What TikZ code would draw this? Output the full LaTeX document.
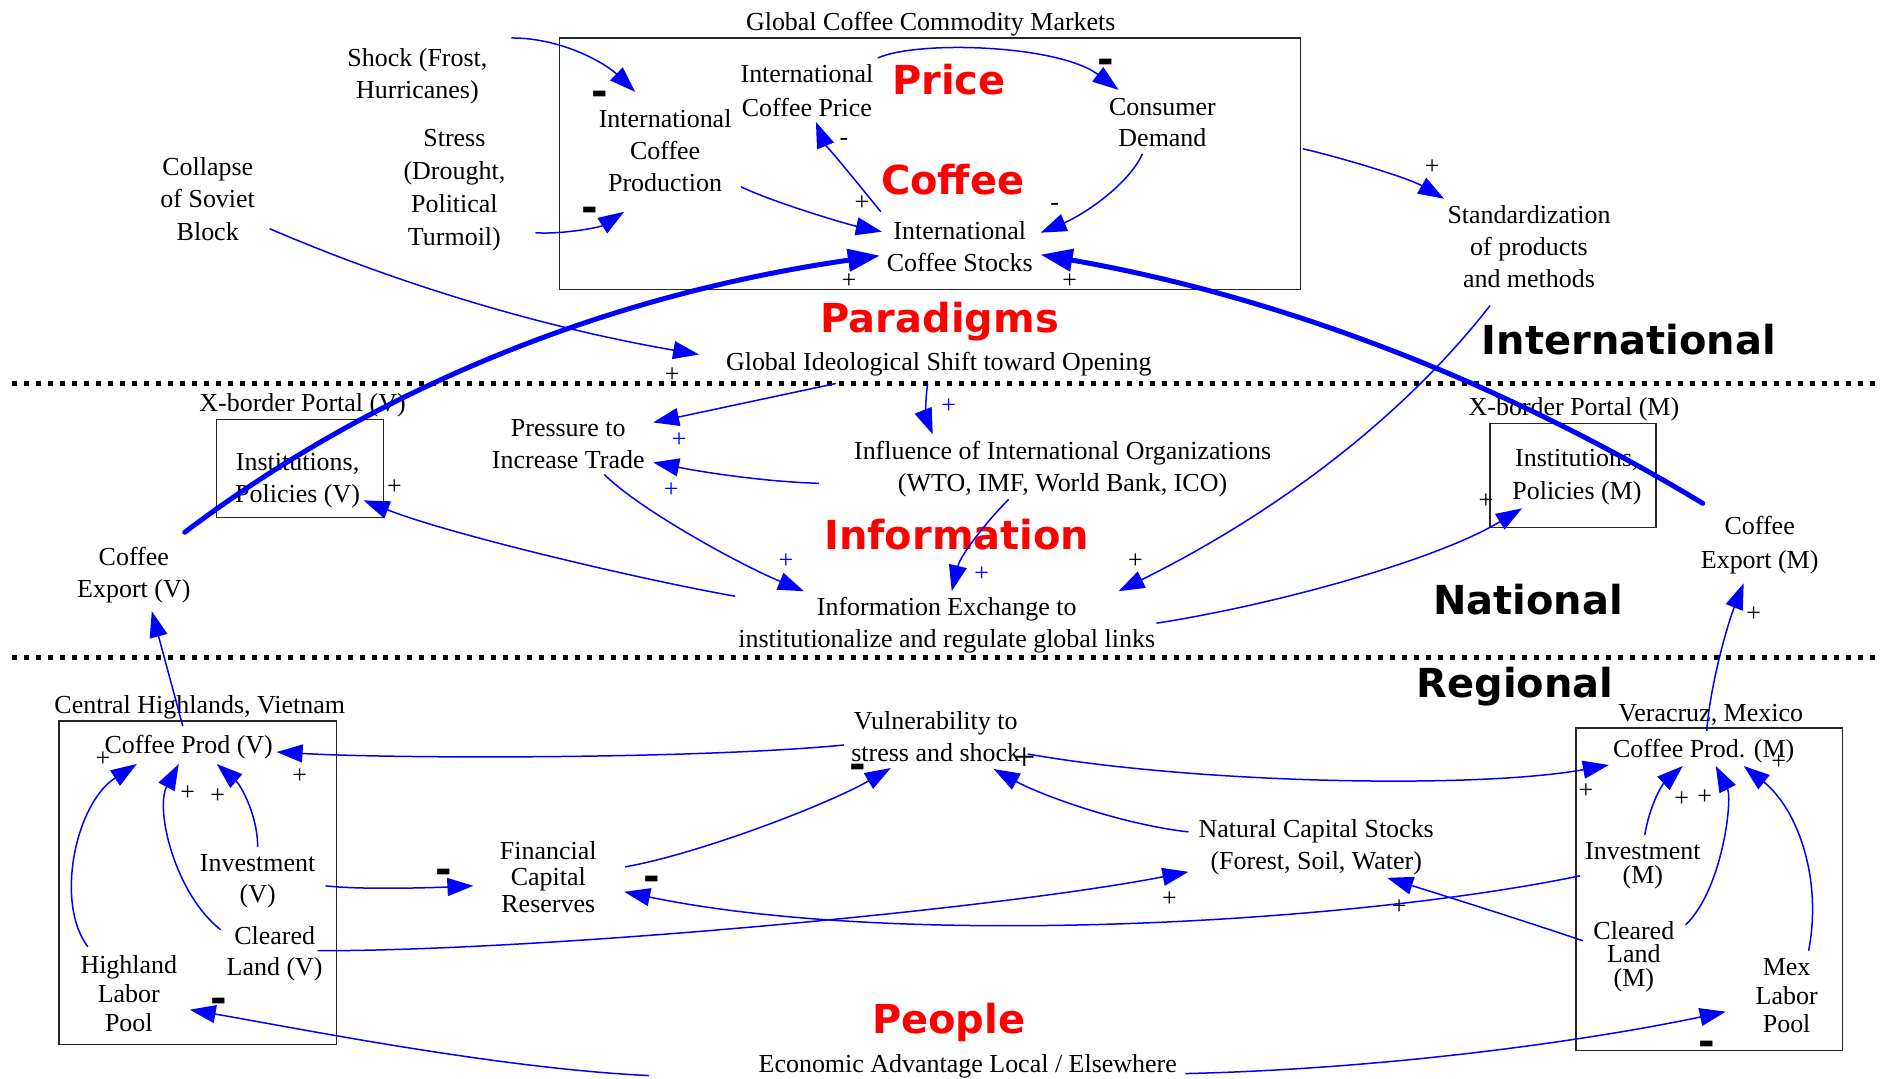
\documentclass[tikz,border=0pt]{standalone}
\usepackage{fontspec}
\setmainfont{Liberation Serif}
\newfontfamily\labelfont{DejaVu Sans}
\usetikzlibrary{arrows.meta,calc}
\definecolor{lnblue}{RGB}{0,0,255}
\definecolor{lblred}{RGB}{255,0,0}
\begin{document}
\begin{tikzpicture}[x=0.5pt,y=-0.5pt,
  txt/.style={align=center,inner sep=0pt,font=\fontsize{13}{16}\selectfont},
  bigcap/.style={inner sep=0pt,anchor=base,font=\labelfont\fontsize{20}{24}\selectfont\bfseries},
  redlbl/.style={bigcap,text=lblred},
  boxframe/.style={draw=black!85,line width=0.7pt,inner sep=0pt},
  conn/.style={draw=lnblue,line width=0.75pt,-{Triangle[length=13pt,width=9pt]}},
  thickconn/.style={draw=lnblue,line width=2.5pt,line cap=round,-{Triangle[length=16pt,width=11pt]}},
  plusmark/.style={inner sep=0pt,font=\fontsize{13}{16}\selectfont},
  bplusmark/.style={plusmark,text=lnblue},
  bigplus/.style={inner sep=0pt,font=\fontsize{20}{24}\selectfont},
  bminus/.style={inner sep=0pt,anchor=base,font=\labelfont\fontsize{20}{24}\selectfont\bfseries},
  tminus/.style={inner sep=0pt,anchor=base,font=\fontsize{13}{16}\selectfont},
  sepline/.style={line width=2.5pt,dash pattern=on 2.5pt off 3.5pt}
]
\fill[white] (0,0) rectangle (1882,1078);

% boxes
\node[boxframe,minimum width=371pt,minimum height=126pt] (mkt) at (931,164) {};
\node[boxframe,minimum width=83.5pt,minimum height=49pt] (boxV) at (300.5,469) {};
\node[boxframe,minimum width=83pt,minimum height=52pt] (boxM) at (1575,476) {};
\node[boxframe,minimum width=139pt,minimum height=162pt] (regV) at (198,884) {};
\node[boxframe,minimum width=133.5pt,minimum height=161.5pt] (regM) at (1711.5,890.5) {};

% separators
\draw[sepline] (12,384) -- (1882,384);
\draw[sepline] (12,658) -- (1882,658);

% big labels
\node[txt,anchor=base] (title) at (932,31) {Global Coffee Commodity Markets};
\node[redlbl] (price) at (950,95) {Price};
\node[redlbl] (coffee) at (954,195) {Coffee};
\node[redlbl] (paradigms) at (941,333) {Paradigms};
\node[redlbl] (information) at (958,550) {Information};
\node[redlbl] (people) at (950,1035) {People};
\node[bigcap] (intl) at (1631,355) {International};
\node[bigcap] (natl) at (1530,615) {National};
\node[bigcap] (regl) at (1517,698) {Regional};

% international nodes
\node[txt] (prod) at (666,151) {International\\Coffee\\Production};
\node[txt,font=\fontsize{13}{17}\selectfont] (iprice) at (808,91) {International\\Coffee Price};
\node[txt,font=\fontsize{13}{15.5}\selectfont] (demand) at (1164,123) {Consumer\\Demand};
\node[txt] (stocks) at (961,247) {International\\Coffee Stocks};
\node[txt] (shock) at (418,76) {Shock (Frost,\\Hurricanes)};
\node[txt,font=\fontsize{13}{16.5}\selectfont] (stress) at (455,190) {Stress\\(Drought,\\Political\\Turmoil)};
\node[txt,font=\fontsize{13}{16.25}\selectfont] (collapse) at (208,199) {Collapse\\of Soviet\\Block};
\node[txt] (stdz) at (1531,247) {Standardization\\of products\\and methods};
\node[txt,anchor=base] (shift) at (940,371) {Global Ideological Shift toward Opening};

% national nodes
\node[txt,anchor=base] (xportV) at (303,412) {X-border Portal (V)};
\node[txt] (instV) at (298,481) {Institutions,\\Policies (V)};
\node[txt] (exportV) at (134,576) {Coffee\\Export (V)};
\node[txt] (pressure) at (569,445) {Pressure to\\Increase Trade};
\node[txt] (influence) at (1064,470) {Influence of International Organizations\\(WTO, IMF, World Bank, ICO)};
\node[txt] (infoex) at (948,626) {Information Exchange to\\institutionalize and regulate global links};
\node[txt,anchor=base] (xportM) at (1576,416) {X-border Portal (M)};
\node[txt,font=\fontsize{13}{16.5}\selectfont] (instM) at (1579,478) {Institutions,\\Policies (M)};
\node[txt,font=\fontsize{13}{17}\selectfont] (exportM) at (1762,546) {Coffee\\Export (M)};

% regional nodes
\node[txt,anchor=base] (central) at (200,714) {Central Highlands, Vietnam};
\node[txt,anchor=base] (prodV) at (189,754) {Coffee Prod (V)};
\node[txt,font=\fontsize{13}{15.5}\selectfont] (investV) at (258,882) {Investment\\(V)};
\node[txt] (clearV) at (275,955) {Cleared\\Land (V)};
\node[txt,font=\fontsize{13}{14.5}\selectfont] (laborV) at (129,995) {Highland\\Labor\\Pool};
\node[txt,font=\fontsize{13}{13.25}\selectfont] (fin) at (549,878) {Financial\\Capital\\Reserves};
\node[txt] (vuln) at (937,738) {Vulnerability to\\stress and shock};
\node[txt] (natural) at (1318,848) {Natural Capital Stocks\\(Forest, Soil, Water)};
\node[txt,anchor=base] (econ) at (969,1074) {Economic Advantage Local / Elsewhere};
\node[txt,anchor=base] (veracruz) at (1713,722) {Veracruz, Mexico};
\node[txt,anchor=base] (prodM) at (1706,758) {Coffee Prod. (M)};
\node[txt,font=\fontsize{13}{12}\selectfont] (investM) at (1645,867) {Investment\\(M)};
\node[txt,font=\fontsize{13}{11.75}\selectfont] (clearM) at (1636,958) {Cleared\\Land\\(M)};
\node[txt,font=\fontsize{13}{14.25}\selectfont] (laborM) at (1789,997) {Mex\\Labor\\Pool};

% connectors - international
\draw[conn] ($(shock)+(94,-38)$) .. controls (565,38) and (608,65) .. ($(prod)+(-30,-59)$);
\draw[conn] ($(stress)+(81,43)$) .. controls (560,235) and (600,228) .. ($(prod)+(-41,61)$);
\draw[conn] ($(collapse)+(62,30)$) .. controls (405,287) and (549,329) .. ($(shift.base)+(-240,-16)$);
\draw[conn] ($(iprice)+(71,-33)$) .. controls (920,40) and (1060,45) .. ($(demand)+(-44,-33)$);
\draw[conn] ($(stocks)+(-79,-35)$) .. controls (860,185) and (825,142) .. ($(iprice)+(9,31)$);
\draw[conn] ($(prod)+(76,36)$) .. controls (775,203) and (850,225) .. ($(stocks)+(-78,-15)$);
\draw[conn] ($(demand)+(-20,31)$) .. controls (1130,185) and (1085,215) .. ($(stocks)+(81,-14)$);
\draw[thickconn] ($(exportV)+(51,-43)$) .. controls (378,387) and (610,295) .. ($(stocks)+(-80,9)$);
\draw[thickconn] ($(exportM)+(-57,-42)$) .. controls (1498,379) and (1277,296) .. ($(stocks)+(81,8)$);
\draw[conn] ($(mkt.east)+(2,-15)$) .. controls (1340,157) and (1410,178) .. ($(stdz)+(-85,-48)$);
\draw[conn] ($(stdz)+(-39,59)$) .. controls (1407,415) and (1283,511) .. ($(infoex)+(172,-34)$);

% connectors - national
\draw[conn] ($(shift.base)+(-103,13)$) -- ($(pressure)+(85,-22)$);
\draw[conn] ($(shift.base)+(-11,13)$) .. controls (926,400) and (928,420) .. ($(influence)+(-130,-35)$);
\draw[conn] ($(influence)+(-244,14)$) .. controls (760,482) and (700,472) .. ($(pressure)+(85,18)$);
\draw[conn] ($(pressure)+(36,30)$) .. controls (640,510) and (740,565) .. ($(infoex)+(-143,-34)$);
\draw[conn] ($(influence)+(-54,30)$) .. controls (990,520) and (962,555) .. ($(infoex)+(5,-34)$);
\draw[conn] ($(infoex)+(-212,-29)$) .. controls (640,580) and (450,535) .. ($(instV)+(66,20)$);
\draw[conn] ($(infoex)+(210,-2)$) .. controls (1280,605) and (1440,560) .. ($(instM)+(-55,31)$);
\draw[conn] ($(prodV.base)+(-6,-27)$) -- ($(exportV)+(18,36)$);
\draw[conn] ($(prodM.base)+(3,-26)$) .. controls (1712,690) and (1728,630) .. ($(exportM)+(-16,38)$);

% connectors - regional
\draw[conn] ($(vuln)+(-92,8)$) .. controls (700,760) and (400,760) .. ($(prodV.base)+(88,-1)$);
\draw[conn] ($(vuln)+(92,17)$) .. controls (1200,785) and (1480,790) .. ($(prodM.base)+(-95,8)$);
\draw[conn] ($(fin)+(77,-10)$) .. controls (700,855) and (830,805) .. ($(vuln)+(-45,31)$);
\draw[conn] ($(natural)+(-128,-15)$) .. controls (1120,825) and (1040,795) .. ($(vuln)+(58,32)$);
\draw[conn] ($(investV)+(68,5)$) .. controls (360,891) and (430,889) .. ($(fin)+(-75,9)$);
\draw[conn] ($(investM)+(-63,10)$) .. controls (1350,925) and (900,950) .. ($(fin)+(76,15)$);
\draw[conn] ($(clearV)+(43,-3)$) .. controls (550,952) and (1000,910) .. ($(natural)+(-128,25)$);
\draw[conn] ($(clearM)+(-51,-16)$) .. controls (1520,920) and (1440,895) .. ($(natural)+(71,31)$);
\draw[conn] ($(econ.base)+(-319,3)$) .. controls (500,1070) and (300,1030) .. ($(laborV)+(61,16)$);
\draw[conn] ($(econ.base)+(218,1)$) .. controls (1400,1070) and (1600,1040) .. ($(laborM)+(-61,16)$);
\draw[conn] ($(laborV)+(-41,-47)$) .. controls (55,905) and (75,805) .. ($(prodV.base)+(-52,11)$);
\draw[conn] ($(clearV)+(-54,-24)$) .. controls (175,895) and (155,810) .. ($(prodV.base)+(-10,11)$);
\draw[conn] ($(investV)+(0,-34)$) .. controls (258,815) and (240,785) .. ($(prodV.base)+(28,11)$);
\draw[conn] ($(investM)+(2,-31)$) .. controls (1652,805) and (1665,785) .. ($(prodM.base)+(-21,9)$);
\draw[conn] ($(clearM)+(52,-32)$) .. controls (1725,890) and (1735,800) .. ($(prodM.base)+(12,9)$);
\draw[conn] ($(laborM)+(22,-45)$) .. controls (1825,880) and (1800,810) .. ($(prodM.base)+(40,9)$);

% polarity marks
\node[bminus] (m1) at (601,106) {-};
\node[bminus] (m2) at (591,222) {-};
\node[bminus] (m3) at (1107,74) {-};
\node[bminus] (m4) at (859,780) {-};
\node[bminus] (m5) at (444,885) {-};
\node[bminus] (m6) at (653,892) {-};
\node[bminus] (m7) at (219,1014) {-};
\node[bminus] (m8) at (1709,1057) {-};
\node[tminus] (m9) at (845,146) {-};
\node[tminus] (m10) at (1056,211) {-};

\node[plusmark] (p1) at (863,203) {+};
\node[plusmark] (p2) at (850,282) {+};
\node[plusmark] (p3) at (1071,282) {+};
\node[plusmark] (p4) at (1434,167) {+};
\node[plusmark] (p5) at (673,376) {+};
\node[plusmark] (p6) at (395,488) {+};
\node[plusmark] (p7) at (1488,502) {+};
\node[plusmark] (p8) at (1137,562) {+};
\node[plusmark] (p9) at (1756,615) {+};
\node[plusmark] (p10) at (300,777) {+};
\node[plusmark] (p11) at (103,760) {+};
\node[plusmark] (p12) at (188,794) {+};
\node[plusmark] (p13) at (218,797) {+};
\node[plusmark] (p14) at (1588,792) {+};
\node[plusmark] (p15) at (1684,800) {+};
\node[plusmark] (p16) at (1707,798) {+};
\node[plusmark] (p17) at (1781,763) {+};
\node[plusmark] (p18) at (1171,900) {+};
\node[plusmark] (p19) at (1401,908) {+};
\node[bigplus] (p20) at (1026,760) {+};
\node[bplusmark] (q1) at (680,441) {+};
\node[bplusmark] (q2) at (950,407) {+};
\node[bplusmark] (q3) at (672,491) {+};
\node[bplusmark] (q4) at (787,562) {+};
\node[bplusmark] (q5) at (983,575) {+};
\end{tikzpicture}
\end{document}
